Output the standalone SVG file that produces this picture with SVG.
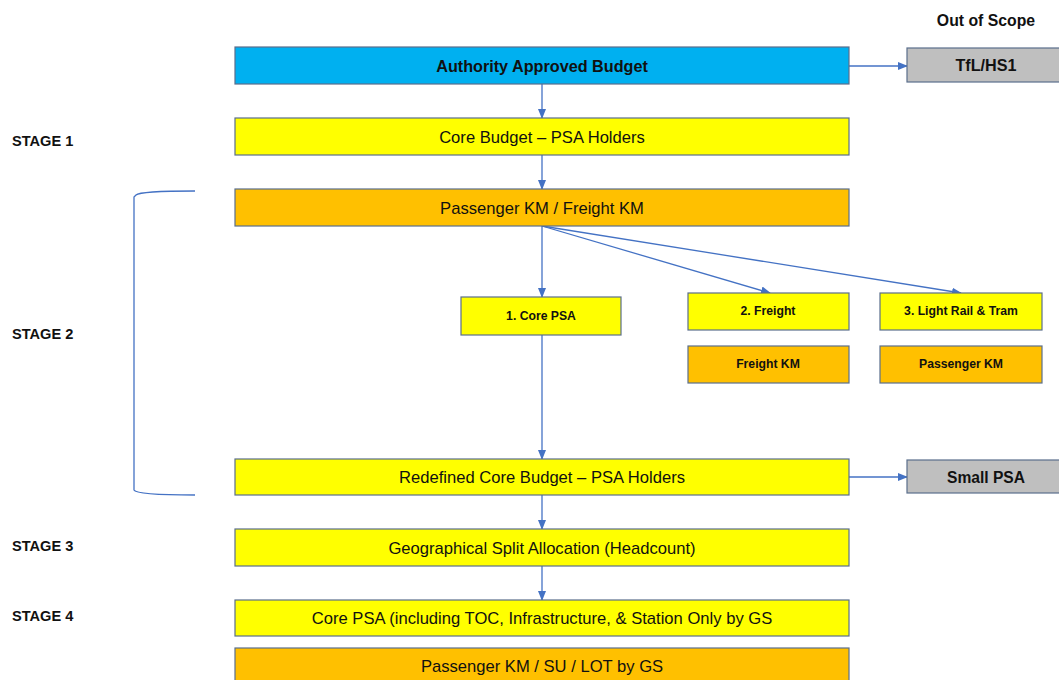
<svg xmlns="http://www.w3.org/2000/svg" width="1059" height="680" viewBox="0 0 1059 680">
<defs>
<style>
.box{stroke:#5a6e8c;stroke-width:1.2}
.blue{fill:#00B0F0}.yel{fill:#FFFF00}.org{fill:#FFC000}.gry{fill:#BFBFBF}
text{font-family:"Liberation Sans",Arial,sans-serif;fill:#111;text-anchor:middle;dominant-baseline:central}
.n{font-size:16.6px}
.b{font-weight:bold;font-size:16.2px}
.s{font-weight:bold;font-size:12.2px}
.st{font-weight:bold;font-size:14.6px;text-anchor:start}
.c{stroke:#4472C4;stroke-width:1.3;fill:none}
</style>
<marker id="ah" markerWidth="10" markerHeight="10" refX="9" refY="5" orient="auto" markerUnits="userSpaceOnUse">
<path d="M0,1 L10,5 L0,9 Z" fill="#4472C4"/>
</marker>
</defs>
<rect width="1059" height="680" fill="#fff"/>
<g id="labels">
<text class="st" x="12" y="141">STAGE 1</text>
<text class="st" x="12" y="334">STAGE 2</text>
<text class="st" x="12" y="546">STAGE 3</text>
<text class="st" x="12" y="616">STAGE 4</text>
<text class="b" x="986" y="20" style="font-size:15.8px">Out of Scope</text>
</g>
<g id="connectors">
<path class="c" d="M542,84 V118" marker-end="url(#ah)"/>
<path class="c" d="M542,155 V189" marker-end="url(#ah)"/>
<path class="c" d="M542,226 V297" marker-end="url(#ah)"/>
<path class="c" d="M542,226 L770,293" marker-end="url(#ah)"/>
<path class="c" d="M542,226 L961,293" marker-end="url(#ah)"/>
<path class="c" d="M542,335 V459" marker-end="url(#ah)"/>
<path class="c" d="M542,495 V529" marker-end="url(#ah)"/>
<path class="c" d="M542,566 V600" marker-end="url(#ah)"/>
<path class="c" d="M849,66 H907" marker-end="url(#ah)"/>
<path class="c" d="M849,477 H907" marker-end="url(#ah)"/>
<path id="bracket" class="c" d="M195,191 Q140,191 136,195 L134,197 V490 Q136,495 195,495"/>
</g>
<g id="n-authority"><rect class="box blue" x="235" y="47" width="614" height="37"/><text class="b" x="542" y="66">Authority Approved Budget</text></g>
<g id="n-tfl"><rect class="box gry" x="907" y="48" width="160" height="34"/><text class="b" x="986" y="65">TfL/HS1</text></g>
<g id="n-core-budget"><rect class="box yel" x="235" y="118" width="614" height="37"/><text class="n" x="542" y="137">Core Budget – PSA Holders</text></g>
<g id="n-pkm-fkm"><rect class="box org" x="235" y="189" width="614" height="37"/><text class="n" x="542" y="208">Passenger KM / Freight KM</text></g>
<g id="n-core-psa"><rect class="box yel" x="461" y="297" width="160" height="38"/><text class="s" x="541" y="316">1. Core PSA</text></g>
<g id="n-freight"><rect class="box yel" x="688" y="293" width="161" height="37"/><text class="s" x="768" y="311">2. Freight</text></g>
<g id="n-lrt"><rect class="box yel" x="880" y="293" width="162" height="37"/><text class="s" x="961" y="311">3. Light Rail &amp; Tram</text></g>
<g id="n-freight-km"><rect class="box org" x="688" y="346" width="161" height="37"/><text class="s" x="768" y="364">Freight KM</text></g>
<g id="n-passenger-km"><rect class="box org" x="880" y="346" width="162" height="37"/><text class="s" x="961" y="364">Passenger KM</text></g>
<g id="n-redefined"><rect class="box yel" x="235" y="459" width="614" height="36"/><text class="n" x="542" y="477">Redefined Core Budget – PSA Holders</text></g>
<g id="n-small-psa"><rect class="box gry" x="907" y="460" width="160" height="33"/><text class="b" x="986" y="477" style="font-size:15.6px">Small PSA</text></g>
<g id="n-geo"><rect class="box yel" x="235" y="529" width="614" height="37"/><text class="n" x="542" y="548">Geographical Split Allocation (Headcount)</text></g>
<g id="n-core-psa-gs"><rect class="box yel" x="235" y="600" width="614" height="36"/><text class="n" x="542" y="618">Core PSA (including TOC, Infrastructure, &amp; Station Only by GS</text></g>
<g id="n-pkm-su-lot"><rect class="box org" x="235" y="648" width="614" height="40"/><text class="n" x="542" y="666">Passenger KM / SU / LOT by GS</text></g>
</svg>
